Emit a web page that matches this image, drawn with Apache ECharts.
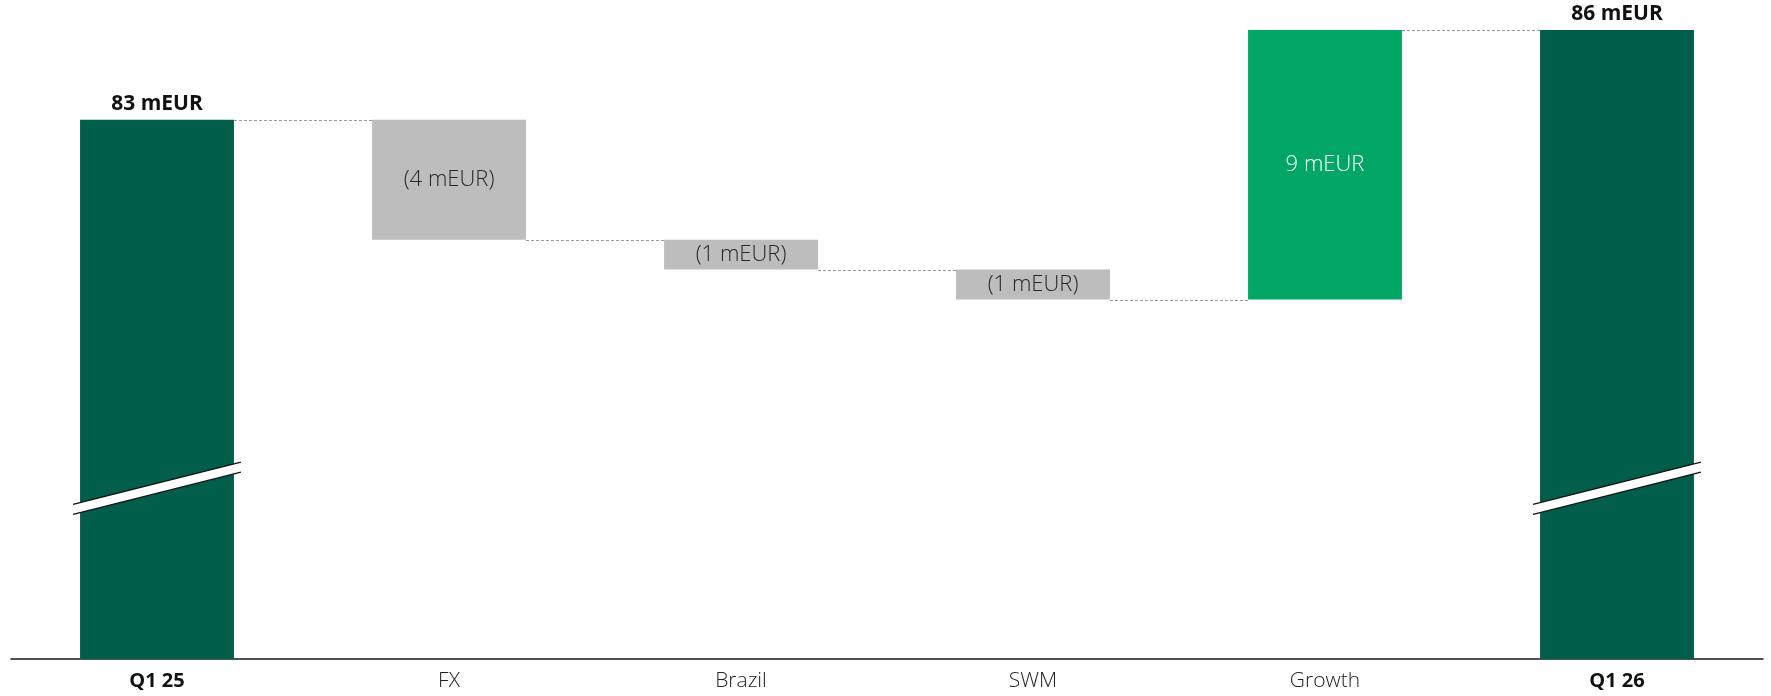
<!DOCTYPE html>
<html>
<head>
<meta charset="utf-8">
<script src="https://cdn.jsdelivr.net/npm/echarts@6/dist/echarts.min.js"></script>
<style>
  html, body { margin: 0; padding: 0; background: #ffffff; }
  #chart { width: 1771px; height: 696px; }
</style>
</head>
<body>
<div id="chart"></div>
<script>
// Revenue bridge, mEUR
const categories = ['Q1 25', 'FX', 'Brazil', 'SWM', 'Growth', 'Q1 26'];
const changes = [83, -4, -1, -1, 9, 86];
const isTotal = [true, false, false, false, false, true];

// Value axis window (the axis is broken, so it does not start at zero)
const axisMin = 65;
const axisMax = 86.6;
// Level where the break marker crosses the total bars
const breakLevel = 70.7;

const BAR_FRAC = 0.527;
const COLOR_TOTAL = '#005e4b';
const COLOR_UP = '#02a665';
const COLOR_DOWN = '#bdbdbd';
const FONT = '"Open Sans", "Noto Sans", sans-serif';

// Running totals -> invisible base + visible segment for each bar
const baseVals = [];
const segVals = [];
const levels = [];
let running = 0;
changes.forEach((v, i) => {
  if (isTotal[i]) {
    baseVals.push(0);
    segVals.push(v);
    running = v;
  } else {
    const next = running + v;
    baseVals.push(Math.min(running, next));
    segVals.push(Math.abs(v));
    running = next;
  }
  levels.push(running);
});

function labelText(i) {
  const v = changes[i];
  if (isTotal[i] || v >= 0) return v + ' mEUR';
  return '(' + Math.abs(v) + ' mEUR)';
}

const segData = segVals.map((v, i) => {
  if (isTotal[i]) {
    return {
      value: v,
      itemStyle: { color: COLOR_TOTAL },
      label: {
        show: true, position: 'top', distance: 5,
        fontFamily: FONT, fontSize: 21, fontWeight: 'bold', color: '#111111'
      }
    };
  }
  const up = changes[i] > 0;
  return {
    value: v,
    itemStyle: { color: up ? COLOR_UP : COLOR_DOWN },
    label: {
      show: true, position: 'inside',
      fontFamily: FONT, fontSize: 22, fontWeight: 300,
      color: up ? '#ffffff' : '#262626'
    }
  };
});

// Dashed connectors from each bar to the next, at the running level
const connectorData = levels.slice(0, -1).map((lv, i) => [i, lv]);
// Break marker positions on the total bars
const breakData = categories.map((c, i) => i).filter(i => isTotal[i]).map(i => [i, breakLevel]);

const chart = echarts.init(document.getElementById('chart'));
chart.setOption({
  animation: false,
  backgroundColor: '#ffffff',
  grid: { left: 11, right: 8, top: 12, bottom: 37, containLabel: false },
  xAxis: {
    type: 'category',
    data: categories,
    axisLine: { show: true, lineStyle: { color: '#1a1a1a', width: 1.5 } },
    axisTick: { show: false },
    axisLabel: {
      margin: 12,
      interval: 0,
      formatter: (val, idx) => isTotal[idx] ? '{b|' + val + '}' : '{n|' + val + '}',
      rich: {
        b: { fontFamily: FONT, fontSize: 20, fontWeight: 'bold', color: '#111111' },
        n: { fontFamily: FONT, fontSize: 21, fontWeight: 300, color: '#222222' }
      }
    }
  },
  yAxis: {
    type: 'value',
    min: axisMin,
    max: axisMax,
    show: false,
    splitLine: { show: false }
  },
  series: [
    {
      name: 'base',
      type: 'bar',
      stack: 'bridge',
      barWidth: (BAR_FRAC * 100) + '%',
      itemStyle: { color: 'transparent' },
      emphasis: { disabled: true },
      silent: true,
      clip: true,
      data: baseVals
    },
    {
      name: 'value',
      type: 'bar',
      stack: 'bridge',
      barWidth: (BAR_FRAC * 100) + '%',
      clip: true,
      label: { formatter: p => labelText(p.dataIndex) },
      data: segData,
      z: 2
    },
    {
      name: 'connectors',
      type: 'custom',
      silent: true,
      z: 1,
      data: connectorData,
      renderItem(params, api) {
        const p = api.coord([api.value(0), api.value(1)]);
        const band = api.size([1, 0])[0];
        const half = band * BAR_FRAC / 2;
        const y = Math.round(p[1]) + 0.5;
        return {
          type: 'line',
          shape: { x1: p[0] + half, y1: y, x2: p[0] + band - half, y2: y },
          style: { stroke: '#9a9a9a', lineWidth: 1, lineDash: [3, 2] }
        };
      }
    },
    {
      name: 'break',
      type: 'custom',
      silent: true,
      z: 5,
      data: breakData,
      renderItem(params, api) {
        const p = api.coord([api.value(0), api.value(1)]);
        const band = api.size([1, 0])[0];
        const half = band * BAR_FRAC / 2 + 7;
        const slope = 0.2515;
        const t = 5;
        const x1 = p[0] - half, x2 = p[0] + half;
        const y1 = p[1] + slope * half, y2 = p[1] - slope * half;
        return {
          type: 'group',
          children: [
            { type: 'polygon', shape: { points: [[x1, y1 - t], [x2, y2 - t], [x2, y2 + t], [x1, y1 + t]] },
              style: { fill: '#ffffff' } },
            { type: 'line', shape: { x1: x1, y1: y1 - t, x2: x2, y2: y2 - t },
              style: { stroke: '#111111', lineWidth: 1.2 } },
            { type: 'line', shape: { x1: x1, y1: y1 + t, x2: x2, y2: y2 + t },
              style: { stroke: '#111111', lineWidth: 1.2 } }
          ]
        };
      }
    }
  ]
});
</script>
</body>
</html>
